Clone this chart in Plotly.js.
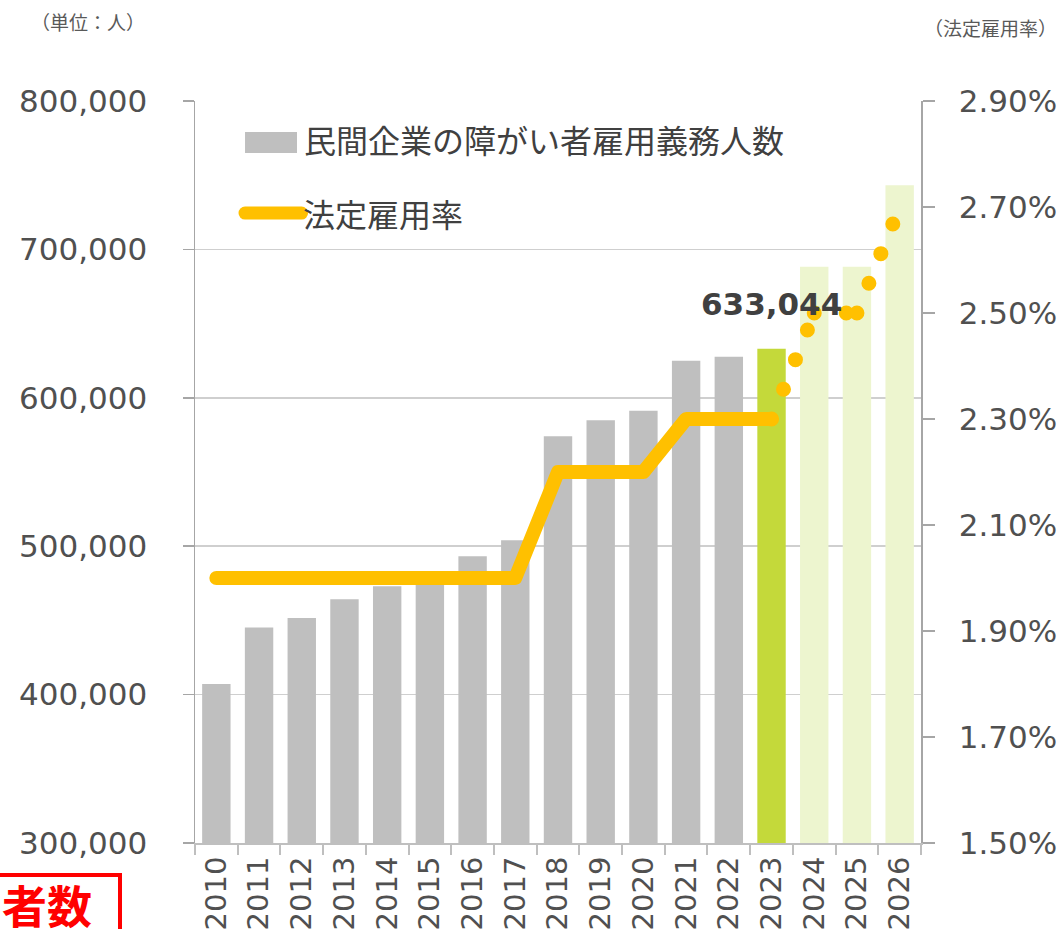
<!DOCTYPE html>
<html>
<head>
<meta charset="utf-8">
<script src="https://cdn.plot.ly/plotly-3.0.1.min.js"></script>
<style>
  body { margin: 0; background: #fff; }
  #wrap { position: relative; width: 1063px; height: 929px; overflow: hidden; }
  #chart { width: 1063px; height: 929px; }
  /* excel style rounded line ends + round dots */
  .scatterlayer .js-line { stroke-linecap: round !important; stroke-linejoin: round !important; }
  .shapelayer path { stroke-linecap: round !important; }
  #redbox {
    position: absolute; left: -10px; top: 873px; width: 132px; height: 90px;
    border: 4px solid #ff0000; box-sizing: border-box;
    font-family: "Noto Sans CJK JP", sans-serif; font-weight: bold;
    font-size: 45px; color: #ff0000; line-height: 1;
  }
  #redbox span { position: absolute; left: 8px; top: 5px; }
</style>
</head>
<body>
<div id="wrap">
  <div id="chart"></div>
  <div id="redbox"><span>者数</span></div>
</div>
<script>
// 年度
const years = ["2010", "2011", "2012", "2013", "2014", "2015", "2016", "2017", "2018",
  "2019", "2020", "2021", "2022", "2023", "2024", "2025", "2026"];

// 民間企業の障がい者雇用義務人数 (人)
const dutyCount = [407200, 445200, 451700, 464300, 473000, 478000, 493200, 504000, 574100,
  584900, 591200, 625000, 627700, 633044, 688300, 688300, 743300];

// bar kind: actual / latest / forecast
const barKind = ["actual", "actual", "actual", "actual", "actual", "actual", "actual", "actual", "actual",
  "actual", "actual", "actual", "actual", "latest", "forecast", "forecast", "forecast"];

// 法定雇用率 (%) actual, 2010-2023
const rateYears = years.slice(0, 14);
const rateActual = [2.0, 2.0, 2.0, 2.0, 2.0, 2.0, 2.0, 2.0, 2.2, 2.2, 2.2, 2.3, 2.3, 2.3];

// 法定雇用率 (%) planned, 2023-2026
const planYears = ["2023", "2024", "2025", "2026"];
const ratePlan = [2.3, 2.5, 2.5, 2.7];

// right axis ticks
const rateTicks = [1.5, 1.7, 1.9, 2.1, 2.3, 2.5, 2.7, 2.9];

const kindColor = { actual: "#BFBFBF", latest: "#C4D93A", forecast: "#EDF5CF" };
const yellow = "#FFC000";
const textGray = "#505050";
const numFont = "DejaVu Sans, Noto Sans CJK JP, sans-serif";
const jpFont = "Noto Sans CJK JP, sans-serif";

const bars = {
  x: years,
  y: dutyCount,
  type: "bar",
  marker: {
    color: barKind.map((k) => kindColor[k]),
    line: { width: 0 },
  },
};

const rateLine = {
  x: rateYears,
  y: rateActual,
  yaxis: "y2",
  type: "scatter",
  mode: "lines",
  line: { color: yellow, width: 14 },
};

// Excel draws each planned segment on its own, so the dot pattern restarts at every point
const planLines = [];
for (let i = 0; i < planYears.length - 1; i++) {
  planLines.push({
    x: planYears.slice(i, i + 2),
    y: ratePlan.slice(i, i + 2),
    yaxis: "y2",
    type: "scatter",
    mode: "lines",
    line: { color: yellow, width: 15, dash: "0px,32px" },
  });
}

const latestIdx = barKind.indexOf("latest");

const layout = {
  width: 1063,
  height: 929,
  margin: { l: 195, r: 142, t: 101, b: 86 },
  paper_bgcolor: "#fff",
  plot_bgcolor: "#fff",
  showlegend: false,
  bargap: 0.335,
  xaxis: {
    type: "category",
    range: [-0.5, years.length - 0.5],
    tickangle: -90,
    ticks: "outside",
    tickson: "boundaries",
    ticklen: 10,
    tickcolor: "#BFBFBF",
    tickwidth: 2,
    showline: true,
    linecolor: "#BFBFBF",
    linewidth: 2,
    showgrid: false,
    tickfont: { family: numFont, size: 29, color: textGray },
  },
  yaxis: {
    range: [300000, 800000],
    dtick: 100000,
    tickformat: ",d",
    ticks: "outside",
    ticklen: 11,
    tickcolor: "#A6A6A6",
    tickwidth: 1.5,
    ticklabelstandoff: 29,
    showline: true,
    linecolor: "#A6A6A6",
    linewidth: 1.5,
    gridcolor: "#CFCFCF",
    gridwidth: 1.5,
    zeroline: false,
    tickfont: { family: numFont, size: 31, color: textGray },
  },
  yaxis2: {
    overlaying: "y",
    side: "right",
    range: [1.5, 2.9],
    tickmode: "array",
    tickvals: rateTicks,
    ticktext: rateTicks.map((v) => v.toFixed(2) + "%"),
    ticks: "outside",
    ticklen: 12,
    tickcolor: "#A6A6A6",
    tickwidth: 1.5,
    ticklabelstandoff: 18,
    showline: true,
    linecolor: "#A6A6A6",
    linewidth: 1.5,
    showgrid: false,
    zeroline: false,
    tickfont: { family: numFont, size: 31, color: textGray },
  },
  shapes: [
    // legend keys
    {
      type: "rect", xref: "paper", yref: "paper",
      x0: 0.0689, x1: 0.1405, y0: 0.9299, y1: 0.9582,
      fillcolor: "#BFBFBF", line: { width: 0 },
    },
    {
      type: "line", xref: "paper", yref: "paper",
      x0: 0.0689, x1: 0.1468, y0: 0.849, y1: 0.849,
      line: { color: yellow, width: 13 },
    },
  ],
  annotations: [
    {
      text: "民間企業の障がい者雇用義務人数",
      xref: "paper", yref: "paper", x: 0.1475, y: 0.9488,
      xanchor: "left", yanchor: "middle", showarrow: false,
      font: { family: jpFont, size: 32, color: "#404040" },
    },
    {
      text: "法定雇用率",
      xref: "paper", yref: "paper", x: 0.1465, y: 0.849,
      xanchor: "left", yanchor: "middle", showarrow: false,
      font: { family: jpFont, size: 32, color: "#404040" },
    },
    {
      text: "（単位：人）",
      xref: "paper", yref: "paper", x: -0.147, y: 1.1065,
      xanchor: "center", yanchor: "middle", showarrow: false,
      font: { family: jpFont, size: 19, color: "#595959" },
    },
    {
      text: "（法定雇用率）",
      xref: "paper", yref: "paper", x: 1.0964, y: 1.0984,
      xanchor: "center", yanchor: "middle", showarrow: false,
      font: { family: jpFont, size: 19, color: "#595959" },
    },
    {
      // value label of the latest bar (category index, so autorange is not touched)
      text: "<b>" + dutyCount[latestIdx].toLocaleString("en-US") + "</b>",
      xref: "x", yref: "y", x: latestIdx, y: dutyCount[latestIdx],
      xanchor: "center", yanchor: "middle", yshift: 45, showarrow: false,
      font: { family: numFont, size: 31, color: "#404040" },
    },
  ],
};

Plotly.newPlot("chart", [bars, rateLine, ...planLines], layout, { displayModeBar: false, staticPlot: true });
</script>
</body>
</html>
